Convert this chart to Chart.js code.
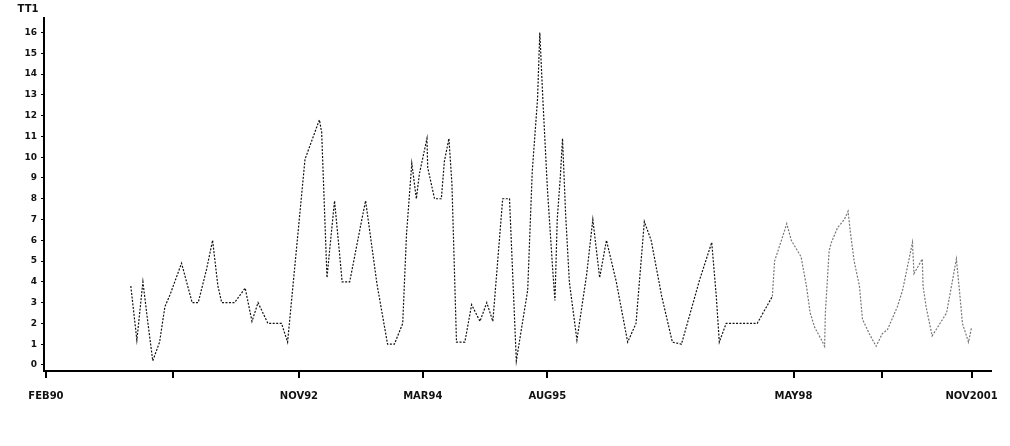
<!DOCTYPE html>
<html>
<head>
<meta charset="utf-8">
<script src="https://cdn.jsdelivr.net/npm/chart.js@4/dist/chart.umd.min.js"></script>
<style>
    html, body { margin: 0; padding: 0; background: #fff; }
    #wrap { width: 1010px; height: 446px; position: relative; }
</style>
</head>
<body>
<div id="wrap"><canvas id="chart"></canvas></div>
<script>
// time index in months from FEB90
const months = [
    11.2, 12.0, 12.8, 13.5, 14.1, 15.0, 15.7, 16.4, 17.9, 19.3, 20.1, 21.2, 22.0, 22.7, 23.2, 24.9,
    26.3, 27.2, 28.0, 29.3, 31.1, 31.9, 34.2, 36.1, 36.4, 37.1, 37.5, 38.1, 38.8, 39.1, 40.1, 41.7,
    42.2, 43.7, 45.1, 46.0, 47.1, 47.6, 48.3, 48.9, 49.3, 50.3, 50.4, 51.3, 52.2, 52.6, 53.2, 53.6,
    54.2, 55.3, 56.2, 57.3, 58.2, 59.0, 60.3, 61.2, 61.5, 62.1, 63.6, 64.2, 64.9, 65.2, 65.6, 66.2,
    66.9, 67.2, 67.5, 67.9, 68.2, 68.6, 69.1, 70.1, 71.4, 72.2, 73.1, 74.0, 75.3, 76.8, 77.9, 79.0,
    79.9, 81.3, 82.7, 83.9, 86.3, 87.9, 88.5, 88.9, 89.8, 93.9, 95.9, 96.2, 97.1, 97.8, 98.4, 99.7,
    100.4, 100.9, 101.5, 102.4, 102.8, 102.9, 103.4, 103.7, 104.5, 105.4, 105.9, 106.2, 106.7, 107.4, 107.8, 108.7,
    109.6, 110.4, 111.1, 112.4, 113.1, 114.4, 114.6, 115.7, 115.8, 116.2, 117.0, 118.9, 120.2, 120.6, 121.0, 121.8,
    122.2
];
const tt1 = [
    3.8, 1.2, 4.0, 1.9, 0.2, 1.1, 2.8, 3.4, 4.9, 3.0, 3.0, 4.6, 6.0, 3.8, 3.0, 3.0,
    3.7, 2.1, 3.0, 2.0, 2.0, 1.1, 9.9, 11.8, 11.2, 4.2, 5.7, 7.9, 5.2, 4.0, 4.0, 7.0,
    7.9, 3.9, 1.0, 1.0, 2.0, 6.3, 9.7, 8.0, 9.2, 10.9, 9.5, 8.0, 8.0, 9.8, 10.9, 8.7,
    1.1, 1.1, 2.9, 2.1, 3.0, 2.1, 8.0, 8.0, 5.4, 0.2, 3.6, 9.3, 12.8, 16.0, 12.8, 8.5,
    4.6, 3.1, 7.0, 9.0, 10.9, 7.3, 4.0, 1.2, 4.4, 7.0, 4.2, 6.0, 4.0, 1.1, 2.0, 6.9,
    6.0, 3.3, 1.1, 1.0, 4.1, 5.9, 3.3, 1.1, 2.0, 2.0, 3.3, 5.0, 6.0, 6.8, 6.0, 5.2,
    3.8, 2.5, 1.8, 1.2, 0.9, 2.5, 5.5, 5.9, 6.6, 7.0, 7.4, 6.4, 5.0, 3.8, 2.2, 1.5,
    0.9, 1.5, 1.7, 2.8, 3.6, 5.9, 4.4, 5.1, 3.8, 2.8, 1.4, 2.5, 5.1, 3.6, 2.0, 1.1,
    1.8
];

// x axis tick marks (months) and their labels
const tickMonths = [0, 16.75, 33.4, 49.75, 66.2, 98.7, 110.4, 122.2];
const tickLabels = ['FEB90', '', 'NOV92', 'MAR94', 'AUG95', 'MAY98', '', 'NOV2001'];
const yTicks = [0, 1, 2, 3, 4, 5, 6, 7, 8, 9, 10, 11, 12, 13, 14, 15, 16];

const points = months.map((m, i) => ({ x: m, y: tt1[i] }));

// "TT1" caption above the y axis
const captionPlugin = {
    id: 'caption',
    afterDraw(chart) {
        const ctx = chart.ctx;
        const area = chart.chartArea;
        ctx.save();
        ctx.fillStyle = '#111';
        ctx.font = 'bold 10px "DejaVu Sans"';
        ctx.textAlign = 'center';
        ctx.textBaseline = 'middle';
        ctx.fillText('TT1', area.left - 16, area.top - 9);
        ctx.restore();
    }
};

const ctx = document.getElementById('chart').getContext('2d');
new Chart(ctx, {
    type: 'line',
    data: {
        datasets: [{
            label: 'TT1',
            data: points,
            borderColor: '#111',
            borderWidth: 1.2,
            borderDash: [2, 1.5],
            pointRadius: 0,
            tension: 0,
            fill: false,
            segment: {
                // the later part of the scan is much fainter
                borderColor: c => (c.p0.parsed.x > 94 ? '#777' : '#111')
            }
        }]
    },
    options: {
        responsive: true,
        maintainAspectRatio: false,
        animation: false,
        layout: {
            padding: { top: 18, right: 18, left: 0, bottom: 0 }
        },
        plugins: {
            legend: { display: false },
            tooltip: { enabled: false }
        },
        scales: {
            x: {
                type: 'linear',
                min: -0.26,
                max: 124.8,
                afterBuildTicks: scale => {
                    scale.ticks = tickMonths.map(v => ({ value: v }));
                },
                afterFit: scale => { scale.height = 75; },
                border: { display: true, color: '#000', width: 2 },
                grid: {
                    drawOnChartArea: false,
                    drawTicks: true,
                    tickLength: 7,
                    color: '#000',
                    lineWidth: 2
                },
                ticks: {
                    autoSkip: false,
                    maxRotation: 0,
                    padding: 12,
                    color: '#111',
                    font: { family: 'DejaVu Sans', size: 10, weight: 'bold' },
                    callback: (value, index) => tickLabels[index]
                }
            },
            y: {
                min: -0.29,
                max: 16.7,
                afterBuildTicks: scale => {
                    scale.ticks = yTicks.map(v => ({ value: v }));
                },
                afterFit: scale => { scale.width = 44; },
                border: { display: true, color: '#000', width: 2 },
                grid: {
                    drawOnChartArea: false,
                    drawTicks: true,
                    tickLength: 3,
                    color: '#000',
                    lineWidth: 1
                },
                ticks: {
                    padding: 4,
                    color: '#111',
                    font: { family: 'DejaVu Sans', size: 9, weight: 'bold' }
                }
            }
        }
    },
    plugins: [captionPlugin]
});
</script>
</body>
</html>
